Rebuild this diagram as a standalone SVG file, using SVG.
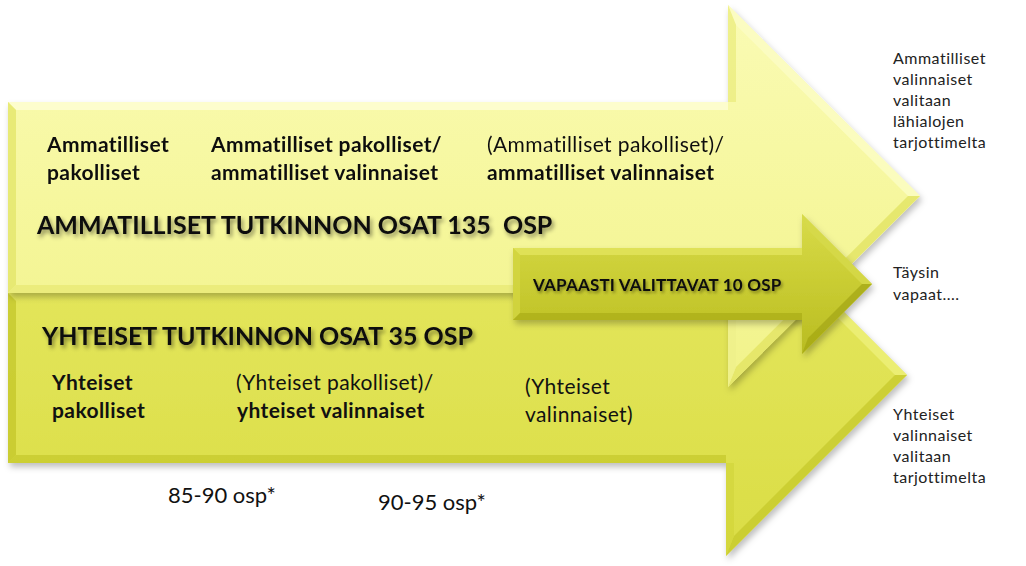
<svg xmlns="http://www.w3.org/2000/svg" width="1026" height="566" viewBox="0 0 1026 566">
<style>
text { font-family: Lato, "Liberation Sans", sans-serif; fill: #111; }
.b { font-weight: bold; }
.lbl { font-size: 21px; letter-spacing: 0.4px; }
.title { font-size: 25px; font-weight: bold; filter: url(#tsh); white-space: pre; }
.small { font-size: 16px; letter-spacing: 0.5px; fill: #222; }
.osp { font-size: 22px; }
.vap { font-size: 17px; letter-spacing: 0.2px; font-weight: bold; filter: url(#tsh2); }
</style>
<defs>
<linearGradient id="gUp" x1="0" y1="0" x2="0" y2="1">
<stop offset="0" stop-color="#fafbb4"/>
<stop offset="0.5" stop-color="#f6f79e"/>
<stop offset="1" stop-color="#f1f38a"/>
</linearGradient>
<linearGradient id="gLow" x1="0" y1="0" x2="0" y2="1">
<stop offset="0" stop-color="#e6e862"/>
<stop offset="1" stop-color="#dadd45"/>
</linearGradient>
<linearGradient id="gVap" x1="0" y1="0" x2="0" y2="1">
<stop offset="0" stop-color="#d8db4a"/>
<stop offset="0.5" stop-color="#c9cc32"/>
<stop offset="1" stop-color="#b9bc22"/>
</linearGradient>
<filter id="sh" x="-5%" y="-5%" width="110%" height="115%">
<feDropShadow dx="2" dy="4" stdDeviation="3" flood-color="#000" flood-opacity="0.25"/>
</filter>
<filter id="tsh" x="-5%" y="-30%" width="110%" height="160%">
<feDropShadow dx="2" dy="3" stdDeviation="2" flood-color="#000" flood-opacity="0.45"/>
</filter>
<filter id="tsh2" x="-5%" y="-30%" width="110%" height="160%">
<feDropShadow dx="1.5" dy="2" stdDeviation="1.5" flood-color="#000" flood-opacity="0.4"/>
</filter>
</defs>

<g id="arrow-yhteiset" filter="url(#sh)">
<polygon points="8,293 726,293 726,194 907,375 726,556 726,463 8,463" fill="url(#gLow)"/>
<polygon points="8,293 8,463 16,455 16,301" fill="#c5c82c" opacity="0.8"/>
<polygon points="8,463 726,463 726,455 16,455" fill="#c4c72a" opacity="0.7"/>
<polygon points="726,556 907,375 895,375 734,536" fill="#c4c72a" opacity="0.7"/>
<polygon points="726,463 726,556 734,536 734,463" fill="#d0d338" opacity="0.6"/>
<polygon points="726,194 907,375 895,375 734,214" fill="#eef07a" opacity="0.8"/>
</g>

<g id="arrow-ammatilliset" filter="url(#sh)">
<polygon points="8,102 728,102 728,5 920,196 728,387 728,293 8,293" fill="url(#gUp)"/>
<polygon points="8,102 728,102 728,110 16,110" fill="#fdfdd0" opacity="0.9"/>
<polygon points="8,102 16,110 16,285 8,293" fill="#e4e66a" opacity="0.8"/>
<polygon points="8,293 728,293 728,285 16,285" fill="#e8ea74" opacity="0.8"/>
<polygon points="728,5 920,196 908,196 736,25" fill="#fbfcc6" opacity="0.8"/>
<polygon points="728,5 736,25 736,102 728,102" fill="#e9eb7a" opacity="0.7"/>
<polygon points="728,387 920,196 908,196 736,367" fill="#e2e463" opacity="0.8"/>
<polygon points="728,293 728,387 736,367 736,293" fill="#eef08a" opacity="0.7"/>
<text class="lbl b" x="47" y="152">Ammatilliset</text>
<text class="lbl b" x="47" y="180">pakolliset</text>
<text class="lbl b" x="211" y="152">Ammatilliset pakolliset/</text>
<text class="lbl b" x="211" y="180">ammatilliset valinnaiset</text>
<text class="lbl" x="487" y="152">(Ammatilliset pakolliset)/</text>
<text class="lbl b" x="487" y="180">ammatilliset valinnaiset</text>
<text class="title" x="37" y="234">AMMATILLISET TUTKINNON OSAT 135  OSP</text>
</g>

<g id="labels-yhteiset">
<text class="title" x="42" y="345">YHTEISET TUTKINNON OSAT 35 OSP</text>
<text class="lbl b" x="52" y="390">Yhteiset</text>
<text class="lbl b" x="52" y="418">pakolliset</text>
<text class="lbl" x="236" y="390">(Yhteiset pakolliset)/</text>
<text class="lbl b" x="237" y="418">yhteiset valinnaiset</text>
<text class="lbl" x="525" y="394">(Yhteiset</text>
<text class="lbl" x="525" y="422">valinnaiset)</text>
</g>

<g id="arrow-vapaasti" filter="url(#sh)">
<polygon points="513,248 802,248 802,214 872,284 802,354 802,320 513,320" fill="url(#gVap)"/>
<polygon points="513,248 802,248 802,255 520,255" fill="#e2e55e" opacity="0.8"/>
<polygon points="513,248 520,255 520,313 513,320" fill="#d3d642" opacity="0.8"/>
<polygon points="513,320 802,320 802,313 520,313" fill="#a9ac18" opacity="0.7"/>
<polygon points="802,214 872,284 862,284 808,230" fill="#d6d94a" opacity="0.8"/>
<polygon points="802,354 872,284 862,284 808,338" fill="#a6a916" opacity="0.8"/>
<text class="vap" x="533" y="291">VAPAASTI VALITTAVAT 10 OSP</text>
</g>

<g id="notes">
<text class="osp" x="168" y="503">85-90 osp*</text>
<text class="osp" x="378" y="510">90-95 osp*</text>
<text class="small" x="893" y="64">Ammatilliset</text>
<text class="small" x="893" y="85">valinnaiset</text>
<text class="small" x="893" y="106">valitaan</text>
<text class="small" x="893" y="127">lähialojen</text>
<text class="small" x="893" y="148">tarjottimelta</text>
<text class="small" x="893" y="278">Täysin</text>
<text class="small" x="893" y="300">vapaat....</text>
<text class="small" x="893" y="420">Yhteiset</text>
<text class="small" x="893" y="441">valinnaiset</text>
<text class="small" x="893" y="462">valitaan</text>
<text class="small" x="893" y="483">tarjottimelta</text>
</g>
</svg>
